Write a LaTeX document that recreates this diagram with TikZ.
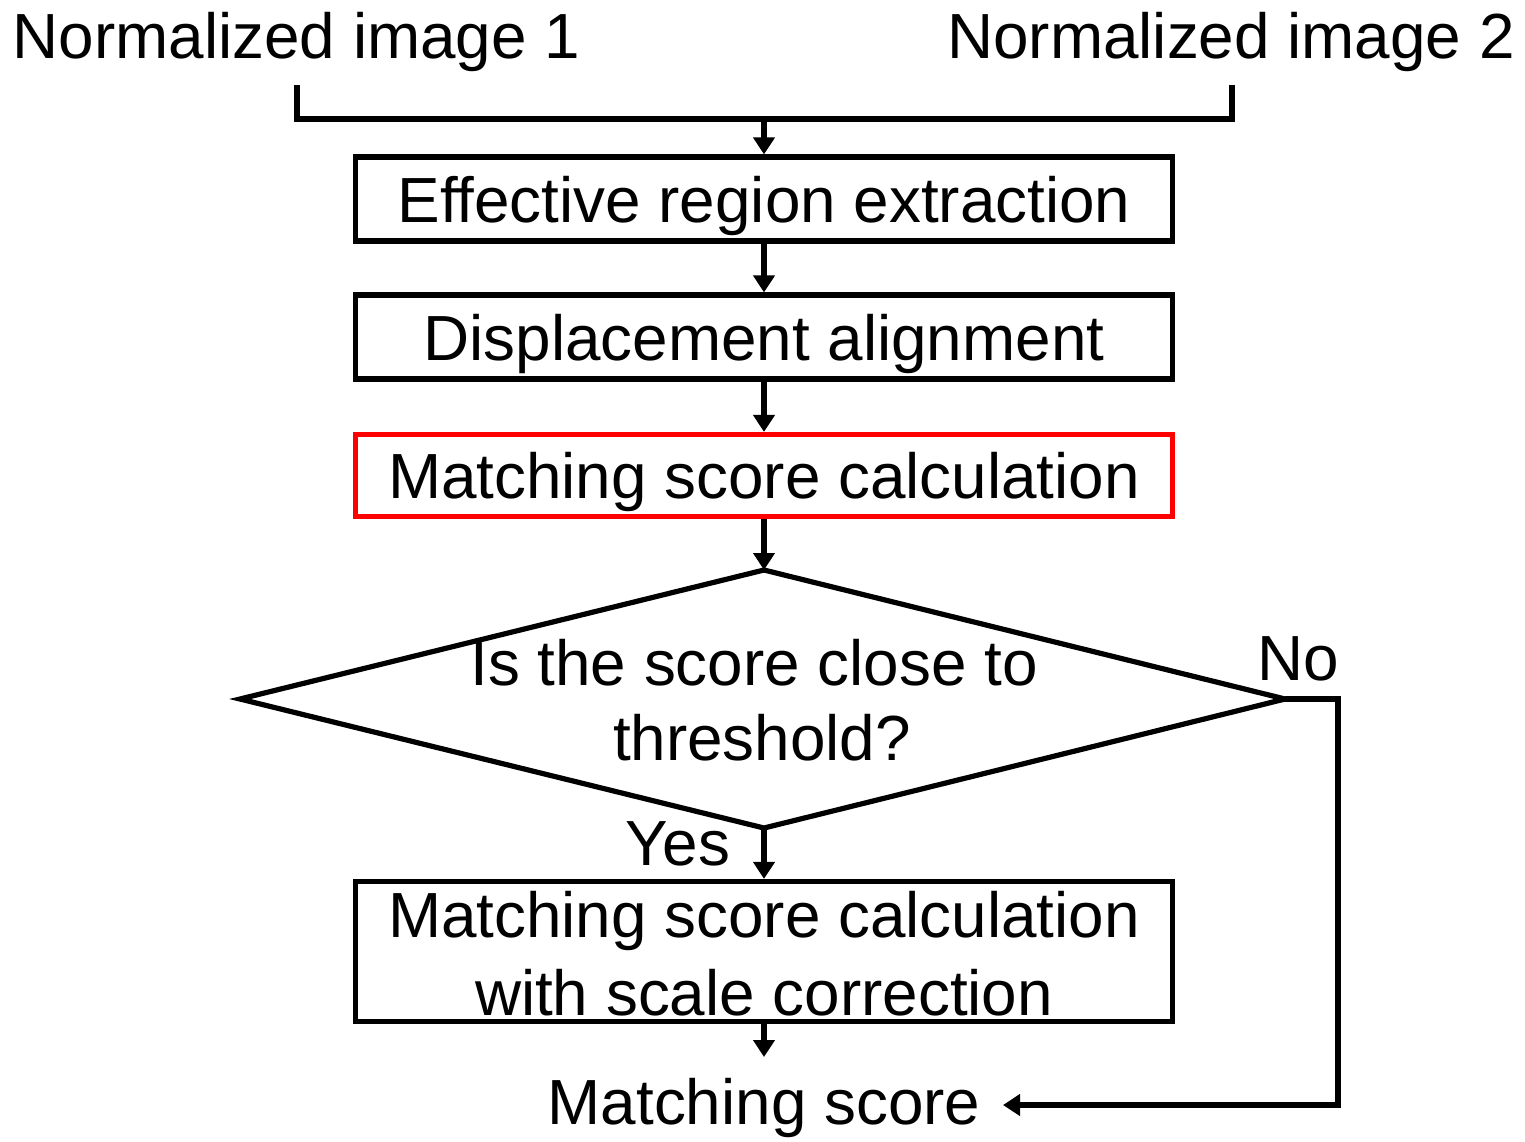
\documentclass[tikz,border=0pt]{standalone}
\usepackage{fontspec}
\setmainfont{Liberation Sans}
\usetikzlibrary{arrows.meta}
\newcommand\myfont{\fontsize{31.9pt}{38.3pt}\selectfont}
\begin{document}
\begin{tikzpicture}[x=0.5pt,y=-0.5pt,line width=2.6pt,
  txt/.style={font=\myfont,inner sep=0pt,anchor=base},
  box/.style={draw,font=\myfont,minimum width=408.5pt,minimum height=42pt,inner sep=0pt,text height=23pt,text depth=0pt},
  arr/.style={-{Triangle[length=8.5pt,width=10.5pt]}}]
\useasboundingbox (0,0) rectangle (1525,1141);
% inputs
\node[txt] (n1) at (296.5,58) {Normalized image 1};
\node[txt] (n2) at (1231,58) {Normalized image 2};
\coordinate (c1) at (297,85);
\coordinate (c2) at (1232,85);
\coordinate (cm) at (764,119);
\draw (c1) |- (cm) -| (c2);
% boxes
\node[box] (b1) at (764,199) {Effective region extraction};
\node[box] (b2) at (764,337) {Displacement alignment};
\node[box,draw=red,minimum height=41pt] (b3) at (764,475.5) {Matching score calculation};
% diamond
\coordinate (dT) at (764,570);
\coordinate (dL) at (240,699);
\coordinate (dR) at (1285,699);
\coordinate (dB) at (764,828);
\draw (dL) -- (dT) -- (dR) -- (dB) -- cycle;
\node[txt] (q1) at (754,685) {Is the score close to};
\node[txt] (q2) at (762,760) {threshold?};
\node[txt] (yes) at (678,865) {Yes};
\node[txt] (no) at (1298,680) {No};
% box 4
\node[draw,minimum width=408.5pt,minimum height=70pt,inner sep=0pt] (b4) at (764,951.5) {};
\node[txt] (b4a) at (764,937) {Matching score calculation};
\node[txt] (b4b) at (764,1015) {with scale correction};
% output
\node[txt] (ms) at (764,1124) {Matching score};
\coordinate (b4end) at (764,1057);
\coordinate (nc) at (1338,699);
\coordinate (tipNo) at (1003,1105);
% arrows
\draw[arr] (cm) -- (b1);
\draw[arr] (b1) -- (b2);
\draw[arr] (b2) -- (b3);
\draw[arr] (b3) -- (dT);
\draw[arr] (dB) -- (b4);
\draw[arr] (b4) -- (b4end);
\draw[arr] (dR) -- (nc) |- (tipNo);
\end{tikzpicture}
\end{document}
